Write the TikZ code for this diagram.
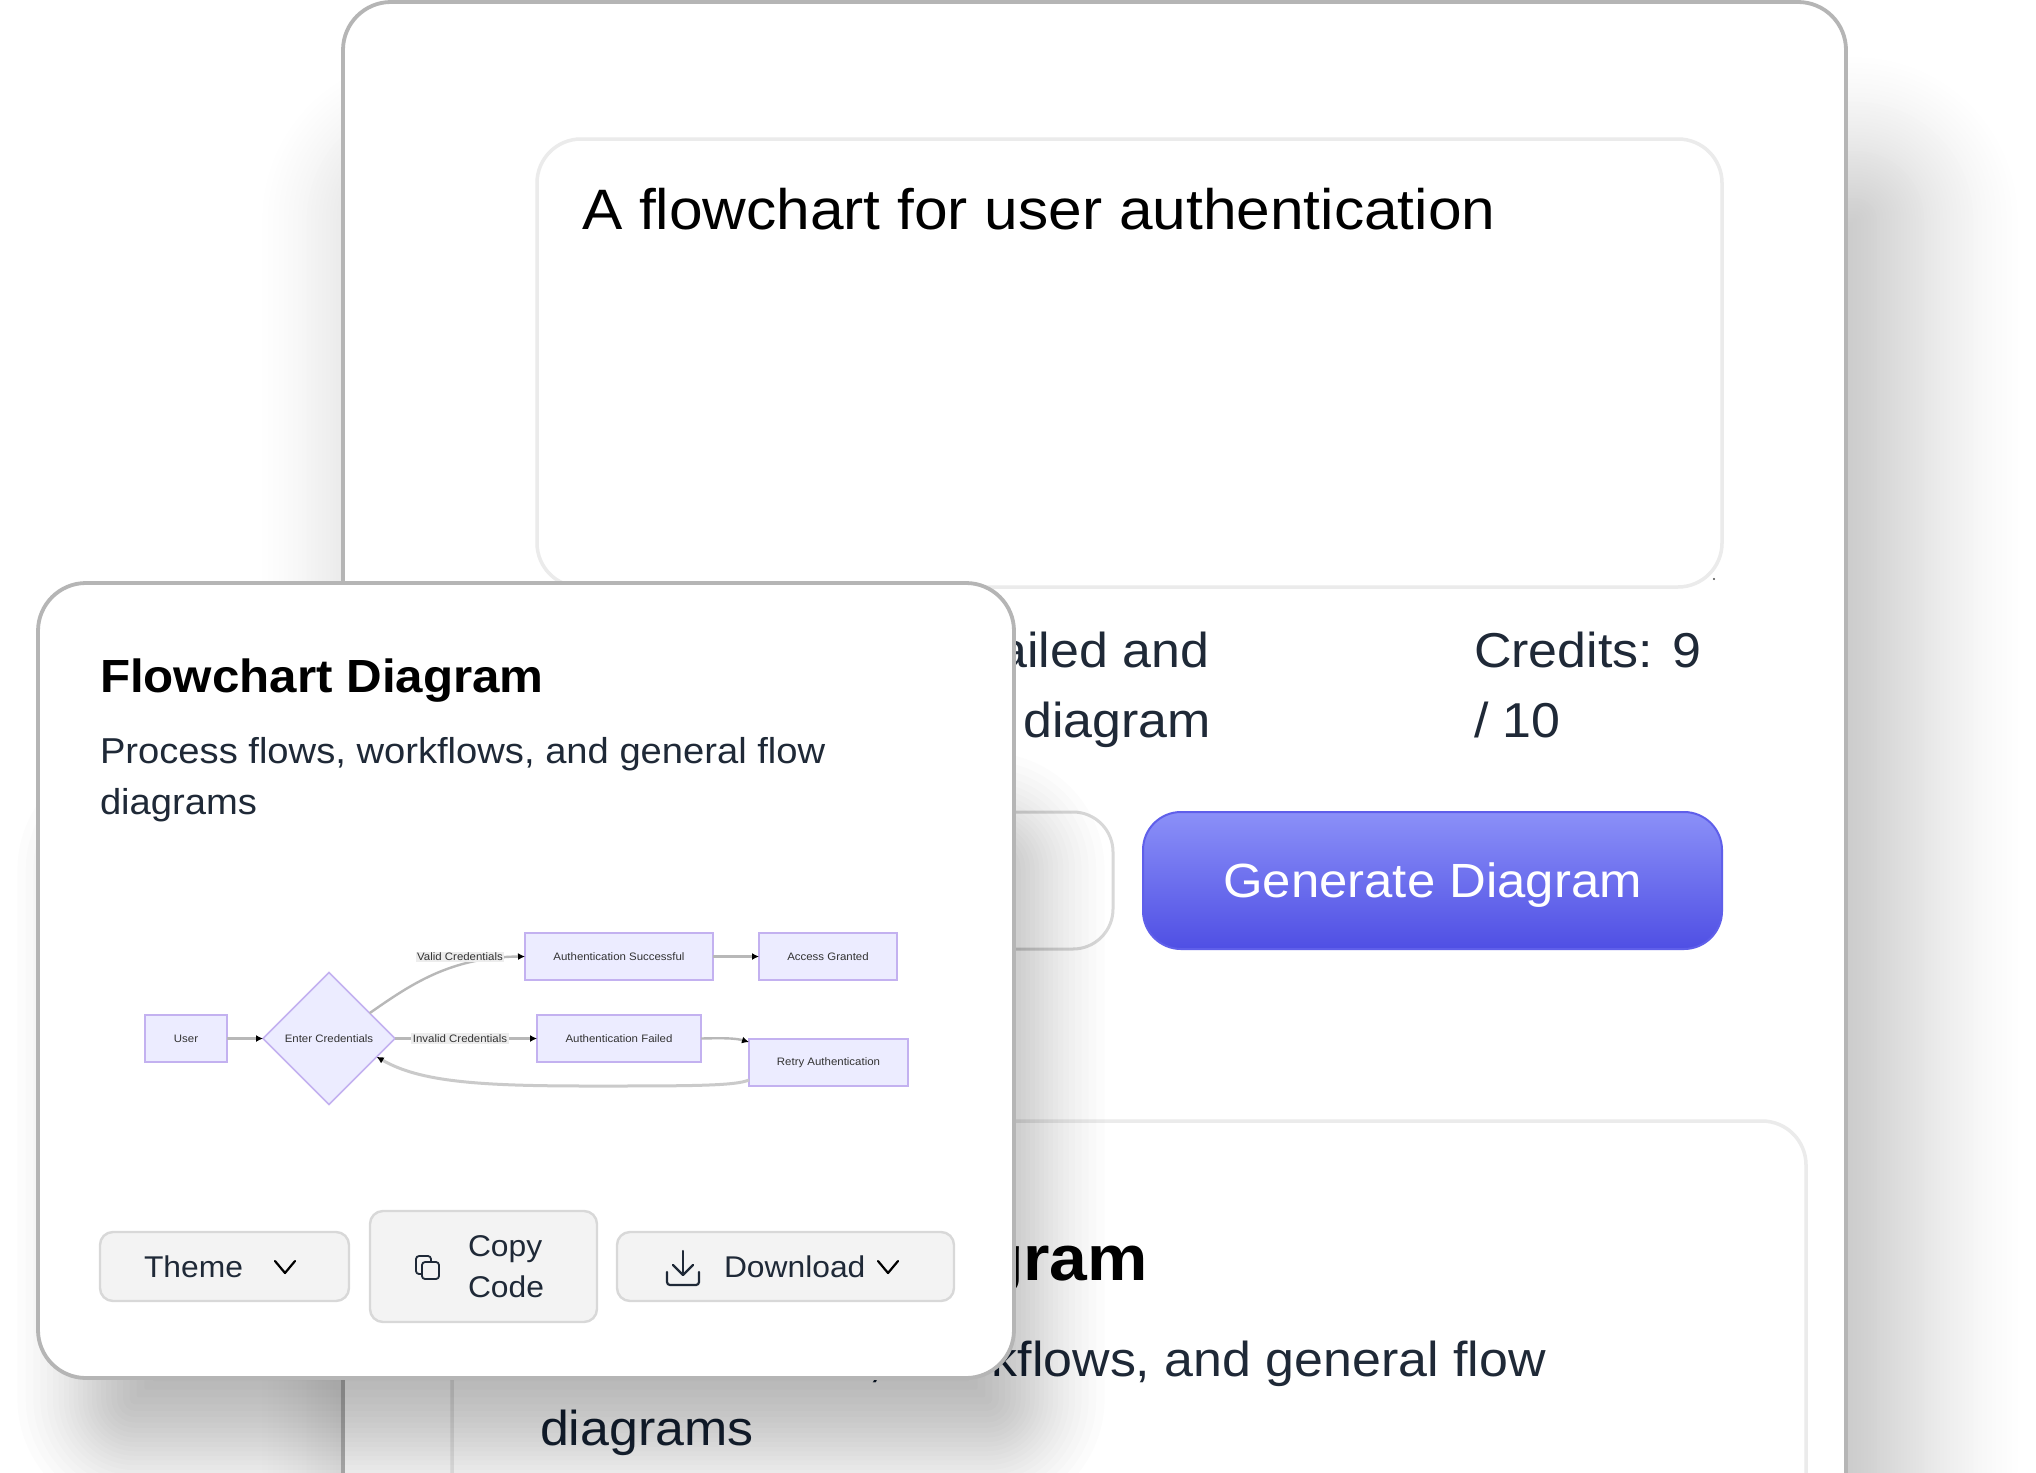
\documentclass[tikz,border=0pt]{standalone}
\usepackage{fontspec}
\setmainfont{Liberation Sans}[FakeStretch=1.06]
\usetikzlibrary{arrows.meta,shapes.geometric,calc}
\definecolor{ink}{HTML}{1F2937}
\definecolor{cardline}{HTML}{B5B5B5}
\definecolor{softline}{HTML}{EBEBEB}
\definecolor{btnfill}{HTML}{F3F3F3}
\definecolor{btnline}{HTML}{D8D8D8}
\definecolor{mfill}{HTML}{ECECFF}
\definecolor{mline}{HTML}{C3B1F0}
\definecolor{edgegray}{HTML}{B8B8B8}
\definecolor{lblbg}{HTML}{EDEDED}
\definecolor{gentop}{HTML}{8B90F8}
\definecolor{genbot}{HTML}{4F4FE4}
\definecolor{genline}{HTML}{5F5FEA}
\newcommand{\fsz}[1]{\fontsize{#1}{#1}\selectfont}
% opaque soft shadow on a plain white ground: x1 y1 x2 y2 blur peak-percent
\newcommand{\plainshadow}[6]{%
  \foreach \i in {1,...,60}{%
    \pgfmathsetmacro{\uu}{1-2*(\i-0.5)/60}%
    \pgfmathsetmacro{\ee}{#5*(0.75*\uu+0.25*\uu*\uu*\uu)}%
    \pgfmathsetmacro{\rr}{max(2,50+\ee)}%
    \pgfmathsetmacro{\pp}{#6*\i/60}%
    \fill[black!\pp!white,rounded corners=\rr pt]
      (#1-\ee,#2-\ee) rectangle (#3+\ee,#4+\ee);
  }}
% translucent soft shadow over other content: x1 y1 x2 y2 blur
\newcommand{\glassshadow}[5]{%
  \foreach \i in {1,...,24}{%
    \pgfmathsetmacro{\uu}{1-2*(\i-0.5)/24}%
    \pgfmathsetmacro{\ee}{#5*(0.75*\uu+0.25*\uu*\uu*\uu)}%
    \pgfmathsetmacro{\rr}{max(2,50+\ee)}%
    \fill[black,fill opacity=0.012,rounded corners=\rr pt]
      (#1-\ee,#2-\ee) rectangle (#3+\ee,#4+\ee);
  }}
\tikzset{
  x=1pt,y=-1pt,
  txt/.style={inner sep=0pt,outer sep=0pt,anchor=base west,text=ink},
  card/.style={draw=cardline,line width=3.8pt,fill=white,rounded corners=48pt},
  softcard/.style={draw=softline,line width=3.5pt,fill=white,rounded corners=44pt},
  btn/.style={draw=btnline,line width=2.4pt,fill=btnfill,rounded corners=13pt,inner sep=0pt,outer sep=0pt},
  mbox/.style={draw=mline,line width=1.6pt,fill=mfill,inner sep=0pt,outer sep=0pt,text=black!80,font=\fsz{10.8}},
  mdia/.style={diamond,aspect=1,draw=mline,line width=1.6pt,fill=mfill,inner sep=0pt,outer sep=0pt,minimum size=132pt,text=black!80,font=\fsz{10.8}},
  mlbl/.style={fill=lblbg,inner sep=1.5pt,text=black!80,font=\fsz{10.8}},
  medge/.style={draw=edgegray,line width=2.4pt,-{Latex[length=7pt,width=7pt,black]}},
  icon/.style={draw=ink,line width=2.2pt,line cap=round,line join=round,fill=none},
}
\begin{document}
\begin{tikzpicture}
\useasboundingbox (0,0) rectangle (2036,1472);
\clip (0,0) rectangle (2036,1472);
\fill[white] (0,0) rectangle (2036,1472);

% back card
\plainshadow{375}{170}{1905}{1800}{115}{25}
\draw[card] (343,2) rectangle (1846,1560);
\draw[softcard] (537,139) rectangle (1722,587);
\fill[black!70] (1714,579) circle (1.2pt);
\node[txt,text=black,font=\fsz{57}] (prompt) at (582,229) {A flowchart for user authentication};
\node[txt,anchor=base east,font=\fsz{49}] (failed) at (1209,667) {ailed and};
\node[txt,anchor=base east,font=\fsz{49}] (diag) at (1211,737) {diagram};
\node[txt,font=\fsz{49}] (cred) at (1474,667) {Credits: 9};
\node[txt,font=\fsz{49}] (credb) at (1474,737) {/ 10};
\draw[draw=btnline,line width=3pt,fill=white,rounded corners=40pt] (800,812) rectangle (1113,949);
\node[rectangle,rounded corners=38pt,minimum width=579pt,minimum height=137pt,inner sep=0pt,
      top color=gentop,bottom color=genbot,draw=genline,line width=2pt] (gen) at (1432.5,880.5) {};
\node[txt,anchor=base,text=white,font=\fsz{48}] (genl) at (gen.center |- 0,897) {Generate Diagram};
\draw[softcard] (452,1121) rectangle (1806,1560);
\node[txt,anchor=base east,text=black,font=\bfseries\fsz{64}] (gram) at (1148,1280) {gram};
\node[txt,anchor=base east,font=\fsz{49}] (flows) at (1546,1376) {kflows, and general flow};
\node[txt,font=\fsz{49}] at (868,1376) {,};
\node[txt,font=\fsz{49}] (diagb) at (540,1445) {diagrams};

% front card
\glassshadow{85}{820}{1037}{1449}{72}
\draw[card] (38,583) rectangle (1014,1378);
\node[txt,text=black,font=\bfseries\fsz{46.5}] (title) at (100,692) {Flowchart Diagram};
\node[txt,font=\fsz{36}] (sub) at (100,763) {Process flows, workflows, and general flow};
\node[txt,font=\fsz{36}] (subb) at (100,814) {diagrams};

% mermaid
\node[mbox,minimum width=82pt,minimum height=47pt] (user) at (186,1038.5) {User};
\node[mdia] (dia) at (329,1038.5) {Enter Credentials};
\node[mbox,minimum width=188pt,minimum height=47pt] (succ) at (619,956.5) {Authentication Successful};
\node[mbox,minimum width=138pt,minimum height=47pt] (acc) at (828,956.5) {Access Granted};
\node[mbox,minimum width=164pt,minimum height=47pt] (fail) at (619,1038.5) {Authentication Failed};
\node[mbox,minimum width=159pt,minimum height=47pt] (retry) at (828.5,1062.5) {Retry Authentication};
\draw[medge] (user) -- (dia);
\draw[medge] (dia.32) .. controls (410,985) and (450,957) .. (succ.west);
\draw[medge] (succ) -- (acc);
\draw[medge] (dia) -- (fail);
\draw[medge] (fail.east) .. controls (722,1038) and (735,1038) .. ($(retry.north west)+(0,3)$);
\draw[draw=edgegray!75,line width=3pt,-{Latex[length=7pt,width=7pt,black]}]
  ($(retry.south west)+(0,-6)$) .. controls (735,1086) and (690,1086) .. (590,1086)
  .. controls (480,1086) and (420,1082) .. (dia.-21);
\node[mlbl] (lv) at (460,957) {Valid Credentials};
\node[mlbl] (li) at (460,1038.5) {Invalid Credentials};

% buttons
\node[btn,minimum width=249pt,minimum height=69pt] (theme) at (224.5,1266.5) {};
\node[btn,minimum width=227pt,minimum height=111pt] (copy) at (483.5,1266.5) {};
\node[btn,minimum width=337pt,minimum height=69pt] (down) at (785.5,1266.5) {};
\node[txt,font=\fsz{30}] (themet) at (144,1277) {Theme};
\node[txt,font=\fsz{30}] (copyt) at (468,1256) {Copy};
\node[txt,font=\fsz{30}] (codet) at (468,1297) {Code};
\node[txt,font=\fsz{30}] (downt) at (724,1277) {Download};
\draw[icon,draw=black] (275,1261) -- (285,1273) -- (295,1261);
\draw[icon,draw=black] (878,1261) -- (888,1273) -- (898,1261);
% copy icon
\draw[icon,line width=1.8pt,rounded corners=3pt] (422,1262) rectangle (439,1279);
\draw[icon,line width=1.8pt,rounded corners=3pt] (422,1274) -- (416,1274) -- (416,1256) -- (431,1256) -- (431,1262);
% download icon
\draw[icon] (683,1251) -- (683,1274);
\draw[icon] (673,1265) -- (683,1275) -- (693,1265);
\draw[icon,rounded corners=3pt] (667,1272) -- (667,1285) -- (699,1285) -- (699,1272);
\end{tikzpicture}
\end{document}
